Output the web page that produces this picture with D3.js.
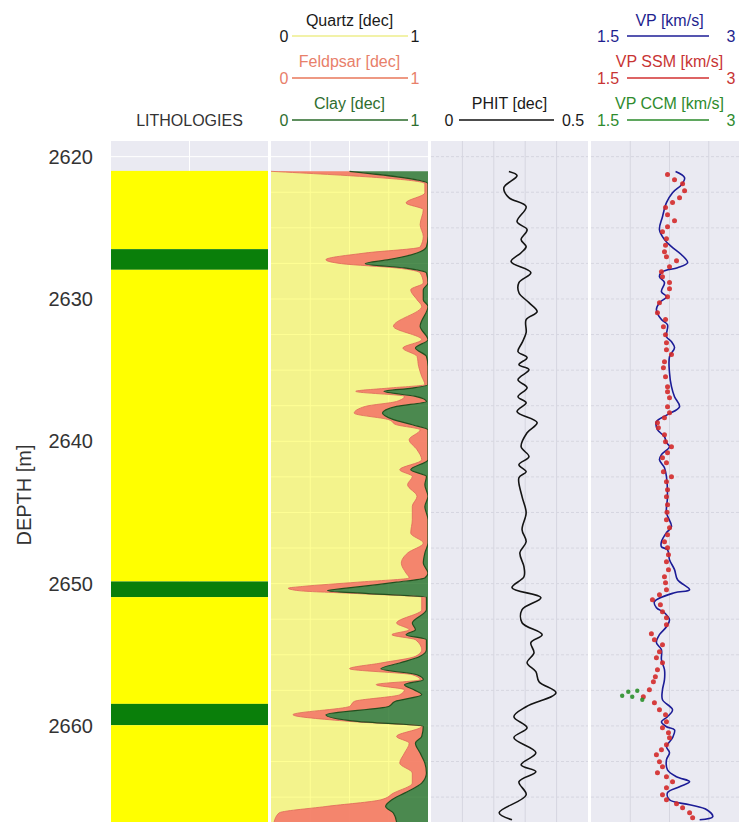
<!DOCTYPE html>
<html>
<head>
<meta charset="utf-8">
<script src="https://cdn.jsdelivr.net/npm/d3@7"></script>
<style>
  body { margin: 0; background: #fff; }
  svg { display: block; font-family: "Liberation Sans", Arial, sans-serif; }
</style>
</head>
<body>
<svg id="chart" width="739" height="822"></svg>
<script>
// ---- lithology intervals (m) ----
const lithTop    = [2621.0, 2626.5, 2627.95, 2649.85, 2650.95, 2658.45, 2659.95];
const lithBottom = [2626.5, 2627.95, 2649.85, 2650.95, 2658.45, 2659.95, 2667.0];
const lithType   = ["sand", "shale", "sand", "shale", "sand", "shale", "sand"];

// ---- mineral fractions (dec) ----
const minDepth = [2621.03,2621.90,2622.55,2623.25,2623.72,2624.78,2625.60,2626.35,2626.77,2627.24,
  2627.52,2627.82,2628.17,2628.88,2629.35,2630.05,2630.52,2631.92,2632.86,2633.45,
  2634.03,2634.73,2635.44,2636.02,2636.26,2636.49,2636.84,2637.20,2637.55,2638.02,
  2638.48,2638.84,2639.19,2639.89,2640.59,2641.30,2642.00,2642.47,2643.05,2643.87,
  2644.58,2645.51,2646.45,2647.15,2647.85,2648.56,2649.26,2649.60,2649.90,2650.20,
  2650.32,2650.50,2650.70,2650.95,2651.84,2652.77,2653.24,2653.59,2653.94,2654.65,
  2655.11,2655.58,2655.98,2656.40,2656.75,2657.10,2657.46,2657.81,2658.28,2658.63,
  2659.21,2659.68,2660.03,2660.74,2661.21,2661.91,2662.61,2663.31,2664.02,2664.72,
  2665.19,2665.66,2666.12,2666.75];
const quartz = [0.00,0.98,0.98,0.86,0.97,0.95,0.97,0.95,0.60,0.35,
  0.45,0.80,0.95,0.97,0.89,0.93,0.96,0.78,0.96,0.84,
  0.93,0.94,0.96,0.98,0.75,0.54,0.85,0.80,0.60,0.53,
  0.75,0.80,0.95,0.88,0.93,0.96,0.82,0.90,0.87,0.93,
  0.90,0.90,0.89,0.97,0.87,0.83,0.86,0.88,0.55,0.20,
  0.11,0.18,0.55,0.96,0.96,0.80,0.88,0.77,0.92,0.96,
  0.92,0.70,0.50,0.90,0.95,0.67,0.85,0.82,0.53,0.50,
  0.14,0.50,0.96,0.80,0.88,0.85,0.82,0.90,0.90,0.78,
  0.70,0.35,0.05,0.02];
const feldspar = [0.50,0.02,0.02,0.14,0.03,0.05,0.03,0.04,0.33,0.40,
  0.15,0.05,0.04,0.03,0.08,0.04,0.04,0.17,0.04,0.08,
  0.06,0.06,0.04,0.02,0.15,0.18,0.07,0.19,0.20,0.18,
  0.03,0.10,0.05,0.12,0.07,0.04,0.07,0.09,0.11,0.07,
  0.08,0.10,0.11,0.03,0.11,0.14,0.14,0.10,0.25,0.38,
  0.37,0.18,0.07,0.03,0.03,0.10,0.04,0.09,0.07,0.03,
  0.03,0.12,0.20,0.03,0.02,0.18,0.06,0.14,0.26,0.25,
  0.21,0.05,0.01,0.16,0.04,0.10,0.16,0.09,0.06,0.07,
  0.07,0.38,0.73,0.78];
const clay = [0.50,0.00,0.00,0.00,0.00,0.00,0.00,0.01,0.07,0.25,
  0.40,0.15,0.01,0.00,0.03,0.03,0.00,0.05,0.00,0.08,
  0.01,0.00,0.00,0.00,0.10,0.28,0.08,0.01,0.20,0.29,
  0.22,0.10,0.00,0.00,0.00,0.00,0.11,0.01,0.02,0.00,
  0.02,0.00,0.00,0.00,0.02,0.03,0.00,0.02,0.20,0.42,
  0.52,0.64,0.38,0.01,0.01,0.10,0.08,0.14,0.01,0.01,
  0.05,0.18,0.30,0.07,0.03,0.15,0.09,0.04,0.21,0.25,
  0.65,0.45,0.03,0.04,0.08,0.05,0.02,0.01,0.04,0.15,
  0.23,0.27,0.22,0.20];

// ---- total porosity ----
const phitDepth = [2621.05,2621.34,2622.18,2622.88,2623.51,2624.57,2625.13,2625.83,2626.32,2626.75,
  2627.38,2628.15,2628.85,2629.56,2630.26,2630.89,2631.45,2632.37,2633.07,2633.70,
  2634.12,2634.62,2634.97,2635.67,2636.23,2636.87,2637.29,2637.92,2638.69,2639.40,
  2640.38,2641.08,2641.64,2642.14,2642.56,2643.89,2645.02,2646.21,2647.06,2647.83,
  2648.81,2649.52,2650.29,2650.99,2651.83,2652.75,2653.59,2654.15,2654.86,2655.56,
  2656.19,2656.89,2657.67,2658.65,2659.35,2660.13,2660.83,2661.88,2662.73,2663.22,
  2663.92,2664.84,2666.10,2666.59];
const phit = [0.248,0.274,0.232,0.248,0.303,0.274,0.306,0.287,0.303,0.287,
  0.255,0.318,0.280,0.280,0.312,0.338,0.303,0.303,0.290,0.277,
  0.306,0.280,0.312,0.277,0.306,0.277,0.303,0.274,0.338,0.306,
  0.287,0.312,0.280,0.303,0.280,0.290,0.303,0.290,0.303,0.283,
  0.296,0.296,0.258,0.350,0.290,0.290,0.354,0.318,0.328,0.306,
  0.334,0.344,0.398,0.303,0.264,0.306,0.264,0.334,0.287,0.334,
  0.280,0.303,0.217,0.258];

// ---- P-wave velocity (km/s) ----
const vpDepth = [2621.05,2621.48,2621.97,2622.53,2623.23,2624.22,2625.13,2625.83,2626.32,2626.89,
  2627.45,2627.80,2628.08,2628.43,2628.85,2629.49,2629.84,2630.26,2630.75,2631.45,
  2631.81,2632.65,2633.00,2633.42,2634.06,2635.18,2636.16,2636.87,2637.57,2638.13,
  2638.62,2639.18,2639.68,2640.10,2640.38,2640.94,2641.29,2641.86,2642.49,2643.89,
  2645.02,2646.00,2646.42,2647.06,2647.41,2647.62,2648.32,2649.02,2649.73,2650.43,
  2650.64,2651.27,2651.69,2652.05,2652.54,2653.03,2653.59,2654.15,2654.65,2655.35,
  2656.05,2656.75,2657.46,2658.16,2658.86,2659.35,2659.71,2660.06,2660.27,2660.83,
  2661.46,2661.88,2662.38,2663.08,2663.57,2663.92,2664.27,2664.69,2665.19,2665.54,
  2665.89,2666.38,2666.59];
const vp = [2.308,2.394,2.365,2.279,2.221,2.183,2.154,2.202,2.269,2.365,
  2.423,2.327,2.183,2.154,2.202,2.173,2.221,2.154,2.125,2.173,
  2.231,2.221,2.269,2.298,2.250,2.250,2.269,2.298,2.346,2.231,
  2.125,2.135,2.202,2.221,2.250,2.173,2.154,2.202,2.221,2.231,
  2.221,2.269,2.221,2.173,2.173,2.231,2.250,2.298,2.327,2.442,
  2.298,2.106,2.125,2.202,2.250,2.221,2.154,2.125,2.173,2.173,
  2.202,2.202,2.183,2.183,2.279,2.231,2.173,2.221,2.298,2.279,
  2.221,2.250,2.221,2.231,2.317,2.442,2.346,2.231,2.250,2.442,
  2.606,2.663,2.538];

// soft-sand model prediction
const ssmDepth = [2621.26,2621.62,2621.90,2622.39,2622.88,2623.23,2623.58,2624.08,2624.50,2624.92,
  2625.27,2625.76,2626.22,2626.68,2627.03,2627.31,2627.73,2628.08,2628.43,2628.85,
  2629.28,2629.84,2630.26,2630.96,2631.45,2631.95,2632.51,2633.07,2633.56,2633.91,
  2634.41,2634.83,2635.46,2636.16,2636.51,2636.94,2637.57,2637.99,2638.34,2638.69,
  2639.04,2639.54,2640.03,2640.38,2640.80,2641.15,2641.50,2642.14,2642.49,2642.84,
  2643.40,2643.89,2644.46,2644.98,2645.51,2646.07,2646.56,2647.06,2647.48,2647.97,
  2648.46,2649.02,2649.52,2649.94,2650.43,2650.78,2651.13,2651.48,2651.97,2652.40,
  2652.89,2653.52,2653.94,2654.29,2654.79,2655.21,2655.56,2656.05,2656.54,2656.89,
  2657.46,2657.95,2658.37,2658.86,2659.21,2659.71,2660.13,2660.48,2660.83,2661.32,
  2661.67,2662.02,2662.52,2662.87,2663.29,2663.57,2663.92,2664.34,2664.84,2665.19,
  2665.47,2665.75,2666.10,2666.45];
const ssm = [2.231,2.298,2.375,2.394,2.346,2.279,2.212,2.231,2.298,2.231,
  2.183,2.221,2.212,2.202,2.221,2.317,2.250,2.173,2.183,2.250,
  2.250,2.231,2.154,2.135,2.212,2.192,2.212,2.221,2.221,2.269,
  2.202,2.192,2.212,2.231,2.231,2.250,2.231,2.250,2.202,2.135,
  2.144,2.202,2.212,2.269,2.231,2.183,2.221,2.192,2.269,2.221,
  2.231,2.221,2.231,2.226,2.221,2.250,2.231,2.202,2.231,2.240,
  2.221,2.240,2.202,2.212,2.221,2.154,2.087,2.163,2.183,2.221,
  2.221,2.077,2.106,2.183,2.154,2.125,2.183,2.135,2.115,2.096,
  2.058,2.000,2.106,2.154,2.212,2.221,2.183,2.240,2.250,2.221,
  2.173,2.125,2.154,2.183,2.135,2.221,2.279,2.221,2.183,2.221,
  2.317,2.375,2.442,2.471];

// contact-cement model prediction
const ccmDepth = [2657.53, 2657.60, 2657.88, 2657.95, 2658.16];
const ccm = [1.942, 1.856, 1.798, 1.894, 1.990];

const depthTicks = [2620, 2630, 2640, 2650, 2660];

// ---- layout ----
const svg = d3.select("#chart");
const H = 822, TOP = 141, TW = 157, GAP = 3, X0 = 111;
const tx = (i) => X0 + i * (TW + GAP);
const y = d3.scaleLinear().domain([2618.9, 2666.75]).range([TOP, H]);
const gridDepths = d3.range(2620, 2667, 2.5);

const tracks = [
  { div: 2, grid: "#ffffff", dash: null },
  { div: 4, grid: "#ffffff", dash: null },
  { div: 5, grid: "#d6d6e0", dash: "3,2" },
  { div: 4, grid: "#d6d6e0", dash: "3,2" },
];

const defs = svg.append("defs");
tracks.forEach((t, i) => {
  defs.append("clipPath").attr("id", "clip" + i)
    .append("rect").attr("x", tx(i)).attr("y", TOP).attr("width", TW).attr("height", H - TOP);
  t.g = svg.append("g").attr("clip-path", `url(#clip${i})`);
  t.g.append("rect").attr("x", tx(i)).attr("y", TOP).attr("width", TW).attr("height", H - TOP).attr("fill", "#eaeaf2");
  t.g.selectAll(".vg").data(d3.range(1, t.div)).join("line")
    .attr("x1", (k) => tx(i) + (k * TW) / t.div).attr("x2", (k) => tx(i) + (k * TW) / t.div)
    .attr("y1", TOP).attr("y2", H).attr("stroke", t.grid).attr("stroke-width", 1);
  t.g.selectAll(".hg").data(gridDepths).join("line")
    .attr("x1", tx(i)).attr("x2", tx(i) + TW).attr("y1", (d) => y(d)).attr("y2", (d) => y(d))
    .attr("stroke", t.grid).attr("stroke-width", 1).attr("stroke-dasharray", t.dash);
});

// ---- track 0: lithologies ----
const LITH_FILL = { sand: "#ffff00", shale: "#0a7f0a" };
tracks[0].g.selectAll(".lith").data(lithTop).join("rect")
  .attr("x", tx(0)).attr("width", TW)
  .attr("y", (d) => y(d)).attr("height", (d, i) => y(lithBottom[i]) - y(d))
  .attr("fill", (d, i) => LITH_FILL[lithType[i]]);

// ---- track 1: mineral stack ----
const xm = d3.scaleLinear().domain([0, 1]).range([tx(1), tx(1) + TW]);
const rows = minDepth.map((d, i) => ({ d, q: quartz[i], qf: quartz[i] + feldspar[i], all: quartz[i] + feldspar[i] + clay[i] }));
const band = (a, b) => d3.area().curve(d3.curveMonotoneY).y((r) => y(r.d)).x0((r) => xm(a(r))).x1((r) => xm(b(r)));
const edge = (a) => d3.line().curve(d3.curveMonotoneY).y((r) => y(r.d)).x((r) => xm(a(r)));
const mg = tracks[1].g;
mg.append("path").datum(rows).attr("d", band(() => 0, (r) => r.q)).attr("fill", "#ffff00").attr("fill-opacity", 0.42);
mg.append("path").datum(rows).attr("d", band((r) => r.q, (r) => r.qf)).attr("fill", "#f47c62").attr("fill-opacity", 0.92);
mg.append("path").datum(rows).attr("d", band((r) => r.qf, (r) => r.all)).attr("fill", "#136616").attr("fill-opacity", 0.74);
mg.append("path").datum(rows).attr("d", edge((r) => r.q)).attr("fill", "none").attr("stroke", "#e06a52").attr("stroke-width", 0.8);
mg.append("path").datum(rows).attr("d", edge((r) => r.qf)).attr("fill", "none").attr("stroke", "#234f1e").attr("stroke-width", 1.2);

// ---- track 2: PHIT ----
const xp = d3.scaleLinear().domain([0, 0.5]).range([tx(2), tx(2) + TW]);
tracks[2].g.append("path").datum(phitDepth.map((d, i) => [d, phit[i]]))
  .attr("d", d3.line().curve(d3.curveCatmullRom).x((p) => xp(p[1])).y((p) => y(p[0])))
  .attr("fill", "none").attr("stroke", "#141414").attr("stroke-width", 1.6);

// ---- track 3: velocities ----
const xv = d3.scaleLinear().domain([1.5, 3]).range([tx(3), tx(3) + TW]);
const vg = tracks[3].g;
vg.append("path").datum(vpDepth.map((d, i) => [d, vp[i]]))
  .attr("d", d3.line().curve(d3.curveCatmullRom).x((p) => xv(p[1])).y((p) => y(p[0])))
  .attr("fill", "none").attr("stroke", "#1c1c96").attr("stroke-width", 1.6);
vg.selectAll(".ssm").data(ssmDepth).join("circle")
  .attr("cx", (d, i) => xv(ssm[i])).attr("cy", (d) => y(d)).attr("r", 2.5)
  .attr("fill", "#d42a2a").attr("fill-opacity", 0.9);
vg.selectAll(".ccm").data(ccmDepth).join("circle")
  .attr("cx", (d, i) => xv(ccm[i])).attr("cy", (d) => y(d)).attr("r", 2.2)
  .attr("fill", "#2a8f2a").attr("fill-opacity", 0.9);

// ---- depth axis ----
const ax = svg.append("g").attr("transform", `translate(${tx(0)},0)`)
  .call(d3.axisLeft(y).tickValues(depthTicks).tickSize(0).tickPadding(18).tickFormat(d3.format("d")));
ax.select(".domain").remove();
ax.selectAll("text").attr("font-size", 20).attr("fill", "#333").attr("font-family", "Liberation Sans, Arial, sans-serif");
svg.append("text").attr("transform", "translate(24,495) rotate(-90)")
  .attr("text-anchor", "middle").attr("dy", "0.35em").attr("font-size", 20).attr("fill", "#333").text("DEPTH [m]");

// ---- track headers ----
const ROW_TITLE = [20, 61, 103], ROW_LINE = [36, 78, 120];
const HEAD_GEOM = { 1: [13, 21, 137, 144], 2: [18, 28, 123, 142], 3: [17, 36, 118, 140] }; // lo label, line start, line end, hi label
const headers = [
  { track: 1, row: 0, title: "Quartz [dec]", text: "#1a1a1a", line: "#eeee8c", lo: "0", hi: "1" },
  { track: 1, row: 1, title: "Feldpsar [dec]", text: "#e8806a", line: "#e9775a", lo: "0", hi: "1" },
  { track: 1, row: 2, title: "Clay [dec]", text: "#2f6e2f", line: "#2a6a2a", lo: "0", hi: "1" },
  { track: 2, row: 2, title: "PHIT [dec]", text: "#1a1a1a", line: "#111111", lo: "0", hi: "0.5" },
  { track: 3, row: 0, title: "VP [km/s]", text: "#1f1f8f", line: "#1c1c96", lo: "1.5", hi: "3" },
  { track: 3, row: 1, title: "VP SSM [km/s]", text: "#c83434", line: "#d23030", lo: "1.5", hi: "3" },
  { track: 3, row: 2, title: "VP CCM [km/s]", text: "#2e8b2e", line: "#2a8a2a", lo: "1.5", hi: "3" },
];
const hg = svg.append("g").attr("font-size", 16);
headers.forEach((h) => {
  const x0 = tx(h.track), gm = HEAD_GEOM[h.track];
  hg.append("text").attr("x", x0 + TW / 2).attr("y", ROW_TITLE[h.row]).attr("dy", "0.35em")
    .attr("text-anchor", "middle").attr("fill", h.text).text(h.title);
  hg.append("line").attr("x1", x0 + gm[1]).attr("x2", x0 + gm[2]).attr("y1", ROW_LINE[h.row]).attr("y2", ROW_LINE[h.row])
    .attr("stroke", h.line).attr("stroke-width", 1.6);
  hg.append("text").attr("x", x0 + gm[0]).attr("y", ROW_LINE[h.row]).attr("dy", "0.35em")
    .attr("text-anchor", "middle").attr("fill", h.text).text(h.lo);
  hg.append("text").attr("x", x0 + gm[3]).attr("y", ROW_LINE[h.row]).attr("dy", "0.35em")
    .attr("text-anchor", "middle").attr("fill", h.text).text(h.hi);
});
hg.append("text").attr("x", tx(0) + TW / 2).attr("y", ROW_LINE[2]).attr("dy", "0.35em")
  .attr("text-anchor", "middle").attr("fill", "#333").text("LITHOLOGIES");
</script>
</body>
</html>
